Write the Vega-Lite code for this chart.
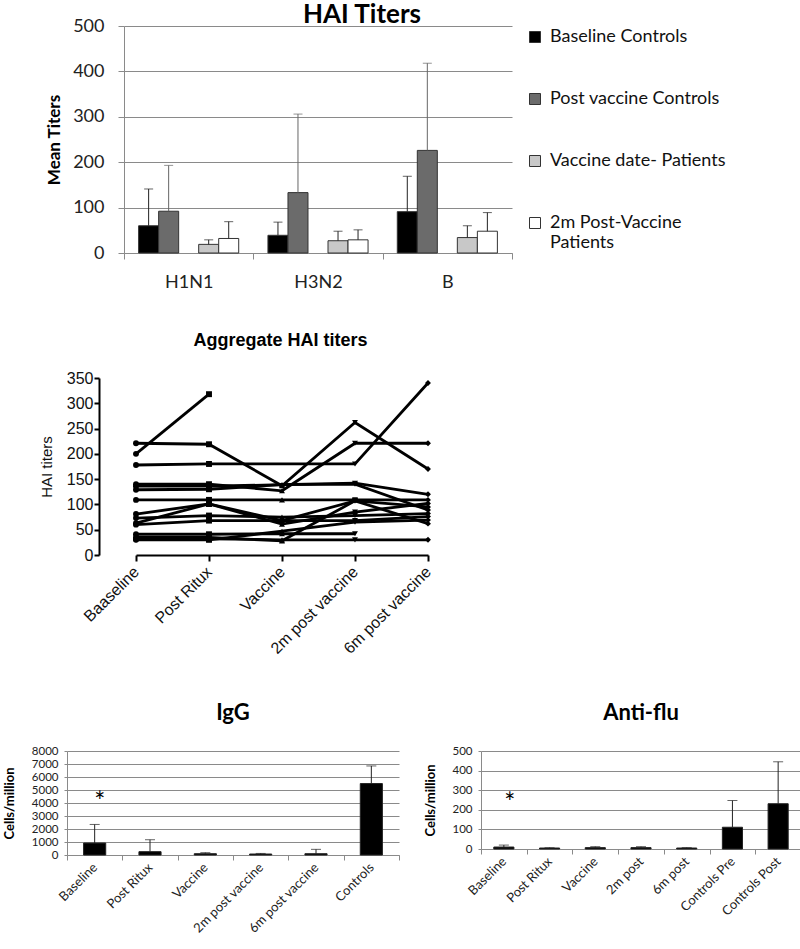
{
  "$schema": "https://vega.github.io/schema/vega-lite/v6.json",
  "padding": {"left": 3, "top": 2, "right": 0, "bottom": 0},
  "background": "white",
  "config": {"view": {"stroke": null, "fill": "white"}},
  "align": "none",
  "spacing": 41,
  "resolve": {"scale": {"color": "independent", "shape": "independent"}, "legend": {"color": "independent", "shape": "independent"}},
  "vconcat": [
    {
      "spacing": -56,
      "align": "none",
      "resolve": {"scale": {"color": "independent"}, "legend": {"color": "independent"}},
      "hconcat": [
        {"width": 34, "height": 10, "data": {"values": [{"a": 1}]}, "mark": {"type": "rect", "opacity": 0}, "encoding": {}},
        {
          "width": 388,
          "height": 227,
          "title": {"text": "HAI Titers", "font": "Lato", "fontSize": 26, "fontWeight": "bold", "color": "#000", "anchor": "middle", "dx": 44, "offset": -11},
          "data": {"values": [
            {"strain": "H1N1", "group": "Baseline Controls", "v": 60, "hi": 141},
            {"strain": "H1N1", "group": "Post vaccine Controls", "v": 92, "hi": 193},
            {"strain": "H1N1", "group": "Vaccine date- Patients", "v": 19, "hi": 29},
            {"strain": "H1N1", "group": "2m Post-Vaccine Patients", "v": 32, "hi": 69},
            {"strain": "H3N2", "group": "Baseline Controls", "v": 39, "hi": 68},
            {"strain": "H3N2", "group": "Post vaccine Controls", "v": 133, "hi": 306},
            {"strain": "H3N2", "group": "Vaccine date- Patients", "v": 27, "hi": 48},
            {"strain": "H3N2", "group": "2m Post-Vaccine Patients", "v": 29, "hi": 51},
            {"strain": "B", "group": "Baseline Controls", "v": 91, "hi": 169},
            {"strain": "B", "group": "Post vaccine Controls", "v": 226, "hi": 418},
            {"strain": "B", "group": "Vaccine date- Patients", "v": 34, "hi": 60},
            {"strain": "B", "group": "2m Post-Vaccine Patients", "v": 48, "hi": 89}
          ]},
          "encoding": {
            "x": {"field": "strain", "type": "nominal", "sort": ["H1N1", "H3N2", "B"],
              "scale": {"paddingInner": 0, "paddingOuter": 0},
              "axis": {"title": null, "labelAngle": 0, "labelFont": "Lato", "labelFontSize": 18, "labelColor": "#222", "labelPadding": 14, "tickBand": "extent", "tickSize": 6, "tickColor": "#8a8a8a", "domainColor": "#8a8a8a"}},
            "xOffset": {"field": "group", "type": "nominal",
              "scale": {"domain": ["Baseline Controls", "Post vaccine Controls", "gap", "Vaccine date- Patients", "2m Post-Vaccine Patients"], "paddingInner": 0, "paddingOuter": 0.73}},
            "y": {"field": "v", "type": "quantitative", "scale": {"domain": [0, 500]},
              "axis": {"title": "Mean Titers", "values": [0, 100, 200, 300, 400, 500], "grid": true, "gridColor": "#8a8a8a", "domainColor": "#8a8a8a", "tickColor": "#8a8a8a", "tickSize": 6, "labelFont": "Lato", "labelFontSize": 18, "labelColor": "#222", "labelPadding": 14, "titleFont": "Lato", "titleFontSize": 17, "titleFontWeight": "bold", "titleColor": "#000", "titlePadding": 9}}
          },
          "layer": [
            {
              "mark": {"type": "bar", "stroke": "#333", "strokeWidth": 1},
              "encoding": {
                "color": {"field": "group", "type": "nominal",
                  "scale": {"domain": ["Baseline Controls", "Post vaccine Controls", "Vaccine date- Patients", "2m Post-Vaccine Patients"], "range": ["#000000", "#6b6b6b", "#c8c8c8", "#ffffff"]},
                  "legend": {"title": null, "orient": "right", "offset": 12, "padding": 2, "symbolType": "square", "symbolSize": 121, "symbolStrokeColor": "#333", "symbolStrokeWidth": 1, "labelFont": "Lato", "labelFontSize": 18, "labelColor": "#111", "rowPadding": 44, "labelOffset": 6, "labelLimit": 300,
                    "labelExpr": "datum.label == '2m Post-Vaccine Patients' ? ['2m Post-Vaccine', 'Patients'] : datum.label"}}
              }
            },
            {
              "mark": {"type": "rule", "strokeWidth": 1},
              "encoding": {
                "y2": {"field": "hi"},
                "color": {"condition": {"test": "datum.group == 'Post vaccine Controls'", "value": "#666"}, "value": "#222"}
              }
            },
            {
              "mark": {"type": "tick", "size": 9, "thickness": 1},
              "encoding": {
                "y": {"field": "hi", "type": "quantitative", "title": "Mean Titers"},
                "color": {"condition": {"test": "datum.group == 'Post vaccine Controls'", "value": "#666"}, "value": "#222"}
              }
            }
          ]
        }
      ]
    },
    {
      "spacing": 45,
      "align": "none",
      "resolve": {"scale": {"shape": "independent"}},
      "vconcat": [
        {
          "spacing": -56,
          "align": "none",
          "hconcat": [
            {"width": 28, "height": 10, "data": {"values": [{"a": 1}]}, "mark": {"type": "rect", "opacity": 0}, "encoding": {}},
            {
              "width": 349,
              "height": 177,
              "title": {"text": "Aggregate HAI titers", "font": "Liberation Sans", "fontSize": 18, "fontWeight": "bold", "color": "#000", "anchor": "middle", "dx": 7, "offset": 20},
              "data": {"values": [
                {"p": 1, "i": 0, "t": "Baaseline", "v": 200}, {"p": 1, "i": 1, "t": "Post Ritux", "v": 318},
                {"p": 2, "i": 0, "t": "Baaseline", "v": 221}, {"p": 2, "i": 1, "t": "Post Ritux", "v": 219}, {"p": 2, "i": 2, "t": "Vaccine", "v": 137}, {"p": 2, "i": 3, "t": "2m post vaccine", "v": 262}, {"p": 2, "i": 4, "t": "6m post vaccine", "v": 170},
                {"p": 3, "i": 0, "t": "Baaseline", "v": 178}, {"p": 3, "i": 1, "t": "Post Ritux", "v": 180}, {"p": 3, "i": 3, "t": "2m post vaccine", "v": 180}, {"p": 3, "i": 4, "t": "6m post vaccine", "v": 340},
                {"p": 4, "i": 0, "t": "Baaseline", "v": 140}, {"p": 4, "i": 1, "t": "Post Ritux", "v": 140}, {"p": 4, "i": 2, "t": "Vaccine", "v": 127}, {"p": 4, "i": 3, "t": "2m post vaccine", "v": 221}, {"p": 4, "i": 4, "t": "6m post vaccine", "v": 221},
                {"p": 5, "i": 0, "t": "Baaseline", "v": 136}, {"p": 5, "i": 1, "t": "Post Ritux", "v": 136}, {"p": 5, "i": 2, "t": "Vaccine", "v": 139}, {"p": 5, "i": 3, "t": "2m post vaccine", "v": 142}, {"p": 5, "i": 4, "t": "6m post vaccine", "v": 120},
                {"p": 6, "i": 0, "t": "Baaseline", "v": 129}, {"p": 6, "i": 1, "t": "Post Ritux", "v": 130}, {"p": 6, "i": 2, "t": "Vaccine", "v": 139}, {"p": 6, "i": 3, "t": "2m post vaccine", "v": 140}, {"p": 6, "i": 4, "t": "6m post vaccine", "v": 89},
                {"p": 7, "i": 0, "t": "Baaseline", "v": 109}, {"p": 7, "i": 1, "t": "Post Ritux", "v": 109}, {"p": 7, "i": 2, "t": "Vaccine", "v": 109}, {"p": 7, "i": 3, "t": "2m post vaccine", "v": 109}, {"p": 7, "i": 4, "t": "6m post vaccine", "v": 109},
                {"p": 8, "i": 0, "t": "Baaseline", "v": 81}, {"p": 8, "i": 1, "t": "Post Ritux", "v": 101}, {"p": 8, "i": 2, "t": "Vaccine", "v": 68}, {"p": 8, "i": 3, "t": "2m post vaccine", "v": 107}, {"p": 8, "i": 4, "t": "6m post vaccine", "v": 62},
                {"p": 9, "i": 0, "t": "Baaseline", "v": 63}, {"p": 9, "i": 1, "t": "Post Ritux", "v": 101}, {"p": 9, "i": 2, "t": "Vaccine", "v": 61}, {"p": 9, "i": 3, "t": "2m post vaccine", "v": 85}, {"p": 9, "i": 4, "t": "6m post vaccine", "v": 102},
                {"p": 10, "i": 0, "t": "Baaseline", "v": 73}, {"p": 10, "i": 1, "t": "Post Ritux", "v": 78}, {"p": 10, "i": 2, "t": "Vaccine", "v": 75}, {"p": 10, "i": 3, "t": "2m post vaccine", "v": 78}, {"p": 10, "i": 4, "t": "6m post vaccine", "v": 82},
                {"p": 11, "i": 0, "t": "Baaseline", "v": 60}, {"p": 11, "i": 1, "t": "Post Ritux", "v": 68}, {"p": 11, "i": 2, "t": "Vaccine", "v": 68}, {"p": 11, "i": 3, "t": "2m post vaccine", "v": 68}, {"p": 11, "i": 4, "t": "6m post vaccine", "v": 76},
                {"p": 12, "i": 0, "t": "Baaseline", "v": 41}, {"p": 12, "i": 1, "t": "Post Ritux", "v": 41}, {"p": 12, "i": 2, "t": "Vaccine", "v": 42}, {"p": 12, "i": 3, "t": "2m post vaccine", "v": 42},
                {"p": 13, "i": 0, "t": "Baaseline", "v": 35}, {"p": 13, "i": 1, "t": "Post Ritux", "v": 35}, {"p": 13, "i": 2, "t": "Vaccine", "v": 28}, {"p": 13, "i": 3, "t": "2m post vaccine", "v": 107}, {"p": 13, "i": 4, "t": "6m post vaccine", "v": 95},
                {"p": 14, "i": 0, "t": "Baaseline", "v": 30}, {"p": 14, "i": 1, "t": "Post Ritux", "v": 30}, {"p": 14, "i": 2, "t": "Vaccine", "v": 47}, {"p": 14, "i": 3, "t": "2m post vaccine", "v": 65}, {"p": 14, "i": 4, "t": "6m post vaccine", "v": 69},
                {"p": 15, "i": 0, "t": "Baaseline", "v": 31}, {"p": 15, "i": 1, "t": "Post Ritux", "v": 32}, {"p": 15, "i": 2, "t": "Vaccine", "v": 30}, {"p": 15, "i": 3, "t": "2m post vaccine", "v": 30}, {"p": 15, "i": 4, "t": "6m post vaccine", "v": 30}
              ]},
              "encoding": {
                "x": {"field": "t", "type": "ordinal", "sort": ["Baaseline", "Post Ritux", "Vaccine", "2m post vaccine", "6m post vaccine"],
                  "scale": {"type": "point", "range": [37, 329], "padding": 0},
                  "axis": {"title": null, "labelAngle": -45, "labelBaseline": "middle", "labelFont": "Liberation Sans", "labelFontSize": 16, "labelColor": "#111", "domainColor": "#000", "domainWidth": 2, "tickColor": "#000", "tickWidth": 2, "tickSize": 6, "labelPadding": 8}},
                "y": {"field": "v", "type": "quantitative", "scale": {"domain": [0, 350]},
                  "axis": {"title": "HAI titers", "values": [0, 50, 100, 150, 200, 250, 300, 350], "grid": false, "domainColor": "#000", "domainWidth": 2, "tickColor": "#000", "tickWidth": 2, "tickSize": 5, "labelFont": "Liberation Sans", "labelFontSize": 16, "labelColor": "#111", "labelPadding": 1, "titleFont": "Liberation Sans", "titleFontSize": 15, "titleFontWeight": "normal", "titleColor": "#111", "titlePadding": 12}}
              },
              "layer": [
                {"mark": {"type": "line", "color": "#000", "strokeWidth": 2.8}, "encoding": {"detail": {"field": "p", "type": "nominal"}, "order": {"field": "i", "type": "quantitative"}}},
                {"mark": {"type": "point", "filled": true, "color": "#000", "opacity": 1, "size": 35},
                  "encoding": {"shape": {"field": "t", "type": "nominal", "scale": {"domain": ["Baaseline", "Post Ritux", "Vaccine", "2m post vaccine", "6m post vaccine"], "range": ["circle", "square", "triangle-up", "triangle-down", "diamond"]}, "legend": null}}}
              ]
            }
          ]
        },
        {
          "spacing": 24,
          "align": "none",
          "hconcat": [
            {
              "width": 332,
              "height": 104,
              "title": {"text": "IgG", "font": "Lato", "fontSize": 22, "fontWeight": "bold", "color": "#000", "anchor": "middle", "offset": 20},
              "data": {"values": [
                {"c": "Baseline", "v": 920, "hi": 2350},
                {"c": "Post Ritux", "v": 255, "hi": 1175},
                {"c": "Vaccine", "v": 100, "hi": 180},
                {"c": "2m post vaccine", "v": 75, "hi": 120},
                {"c": "6m post vaccine", "v": 100, "hi": 435},
                {"c": "Controls", "v": 5495, "hi": 6850}
              ]},
              "encoding": {
                "x": {"field": "c", "type": "nominal", "sort": ["Baseline", "Post Ritux", "Vaccine", "2m post vaccine", "6m post vaccine", "Controls"],
                  "scale": {"paddingInner": 0, "paddingOuter": 0},
                  "axis": {"title": null, "labelAngle": -45, "labelBaseline": "middle", "labelFont": "Lato", "labelFontSize": 13, "labelColor": "#222", "tickBand": "extent", "tickSize": 5, "tickColor": "#8a8a8a", "domainColor": "#8a8a8a", "labelPadding": 5}},
                "y": {"field": "v", "type": "quantitative", "scale": {"domain": [0, 8000]},
                  "axis": {"title": "Cells/million", "format": "d", "values": [0, 1000, 2000, 3000, 4000, 5000, 6000, 7000, 8000], "grid": true, "gridColor": "#8a8a8a", "domainColor": "#8a8a8a", "tickColor": "#8a8a8a", "tickSize": 3, "labelFont": "Lato", "labelFontSize": 11.5, "labelColor": "#222", "labelPadding": 6, "titleFont": "Lato", "titleFontSize": 13, "titleFontWeight": "bold", "titleColor": "#000", "titlePadding": 15}}
              },
              "layer": [
                {"mark": {"type": "bar", "color": "#000", "stroke": "#222", "strokeWidth": 1, "width": {"band": 0.4}}},
                {"mark": {"type": "rule", "color": "#222", "strokeWidth": 1},
                  "encoding": {"y2": {"field": "hi"}}},
                {"mark": {"type": "tick", "color": "#222", "size": 10, "thickness": 1},
                  "encoding": {"y": {"field": "hi", "type": "quantitative", "title": "Cells/million"}}},
                {"data": {"values": [{"c": "Baseline", "y": 4540, "s": "*"}]},
                  "mark": {"type": "text", "font": "Lato", "fontSize": 26, "color": "#000", "baseline": "alphabetic", "dx": 5, "dy": 15},
                  "encoding": {"y": {"field": "y", "type": "quantitative", "title": "Cells/million"}, "text": {"field": "s"}}}
              ]
            },
            {
              "width": 320,
              "height": 98,
              "title": {"text": "Anti-flu", "font": "Lato", "fontSize": 22, "fontWeight": "bold", "color": "#000", "anchor": "middle", "offset": 20},
              "data": {"values": [
                {"c": "Baseline", "v": 10, "hi": 20},
                {"c": "Post Ritux", "v": 5, "hi": 7},
                {"c": "Vaccine", "v": 7, "hi": 12},
                {"c": "2m post", "v": 7, "hi": 12},
                {"c": "6m post", "v": 5, "hi": 7},
                {"c": "Controls Pre", "v": 111, "hi": 247},
                {"c": "Controls Post", "v": 231, "hi": 445}
              ]},
              "encoding": {
                "x": {"field": "c", "type": "nominal", "sort": ["Baseline", "Post Ritux", "Vaccine", "2m post", "6m post", "Controls Pre", "Controls Post"],
                  "scale": {"paddingInner": 0, "paddingOuter": 0},
                  "axis": {"title": null, "labelAngle": -45, "labelBaseline": "middle", "labelFont": "Lato", "labelFontSize": 13, "labelColor": "#222", "tickBand": "extent", "tickSize": 5, "tickColor": "#8a8a8a", "domainColor": "#8a8a8a", "labelPadding": 5}},
                "y": {"field": "v", "type": "quantitative", "scale": {"domain": [0, 500]},
                  "axis": {"title": "Cells/million", "format": "d", "values": [0, 100, 200, 300, 400, 500], "grid": true, "gridColor": "#8a8a8a", "domainColor": "#8a8a8a", "tickColor": "#8a8a8a", "tickSize": 3, "labelFont": "Lato", "labelFontSize": 11.5, "labelColor": "#222", "labelPadding": 6, "titleFont": "Lato", "titleFontSize": 13, "titleFontWeight": "bold", "titleColor": "#000", "titlePadding": 14}}
              },
              "layer": [
                {"mark": {"type": "bar", "color": "#000", "stroke": "#222", "strokeWidth": 1, "width": {"band": 0.44}}},
                {"mark": {"type": "rule", "color": "#222", "strokeWidth": 1},
                  "encoding": {"y2": {"field": "hi"}}},
                {"mark": {"type": "tick", "color": "#222", "size": 10, "thickness": 1},
                  "encoding": {"y": {"field": "hi", "type": "quantitative", "title": "Cells/million"}}},
                {"data": {"values": [{"c": "Baseline", "y": 265, "s": "*"}]},
                  "mark": {"type": "text", "font": "Lato", "fontSize": 26, "color": "#000", "baseline": "alphabetic", "dx": 6, "dy": 15},
                  "encoding": {"y": {"field": "y", "type": "quantitative", "title": "Cells/million"}, "text": {"field": "s"}}}
              ]
            }
          ]
        }
      ]
    }
  ]
}
